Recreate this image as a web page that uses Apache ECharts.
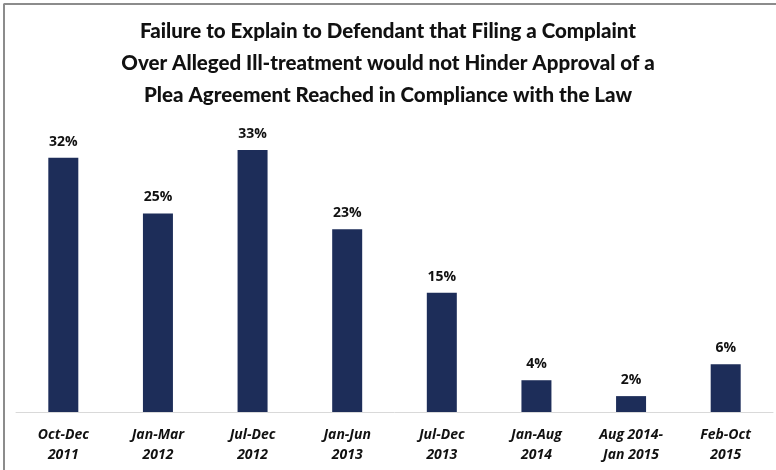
<!DOCTYPE html>
<html>
<head>
<meta charset="utf-8">
<script src="https://cdn.jsdelivr.net/npm/echarts@6/dist/echarts.min.js"></script>
<style>
	html, body { margin: 0; padding: 0; background: #fff; }
	#chart { width: 776px; height: 470px; }
</style>
</head>
<body>
<div id="chart"></div>
<script>
// 数据
var periods = ['Oct-Dec\n2011', 'Jan-Mar\n2012', 'Jul-Dec\n2012', 'Jan-Jun\n2013', 'Jul-Dec\n2013', 'Jan-Aug\n2014', 'Aug 2014-\nJan 2015', 'Feb-Oct\n2015'];
var shares = [32, 25, 33, 23, 15, 4, 2, 6];
var titleText = 'Failure to Explain to Defendant that Filing a Complaint\nOver Alleged Ill-treatment would not Hinder Approval of a\nPlea Agreement Reached in Compliance with the Law';

(function () {
	let myChart = echarts.init(document.getElementById('chart'));
	let option = {
		animation: false,
		title: {
			text: titleText,
			left: 'center',
			top: 10,
			textStyle: {
				fontFamily: 'Lato',
				fontWeight: 900,
				fontSize: 20.5,
				lineHeight: 32,
				color: '#111'
			}
		},
		// 边框
		graphic: [
			{ type: 'line', shape: { x1: 3.5, y1: 4, x2: 776, y2: 4 }, style: { stroke: '#8c8c8c', lineWidth: 2 } },
			{ type: 'line', shape: { x1: 4, y1: 4, x2: 4, y2: 470 }, style: { stroke: '#8c8c8c', lineWidth: 2 } }
		],
		grid: {
			left: 16,
			right: 3,
			top: 134,
			bottom: 58,
			containLabel: false
		},
		xAxis: {
			type: 'category',
			data: periods,
			axisTick: { show: false },
			axisLine: { lineStyle: { color: '#d9d9d9', width: 1 } },
			axisLabel: {
				interval: 0,
				margin: 13,
				fontFamily: 'Open Sans',
				fontStyle: 'italic',
				fontWeight: 'bold',
				fontSize: 14,
				lineHeight: 20,
				color: '#111'
			}
		},
		yAxis: {
			type: 'value',
			min: 0,
			max: 35,
			show: false
		},
		series: [
			{
				type: 'bar',
				data: shares,
				barWidth: 30,
				itemStyle: { color: '#1d2d59' },
				label: {
					show: true,
					position: 'top',
					distance: 9,
					formatter: '{c}%',
					fontFamily: 'Open Sans',
					fontWeight: 'bold',
					fontSize: 14,
					color: '#111'
				}
			}
		]
	};
	myChart.setOption(option);
	window.addEventListener('resize', function () {
		myChart.resize();
	});
})();
</script>
</body>
</html>
